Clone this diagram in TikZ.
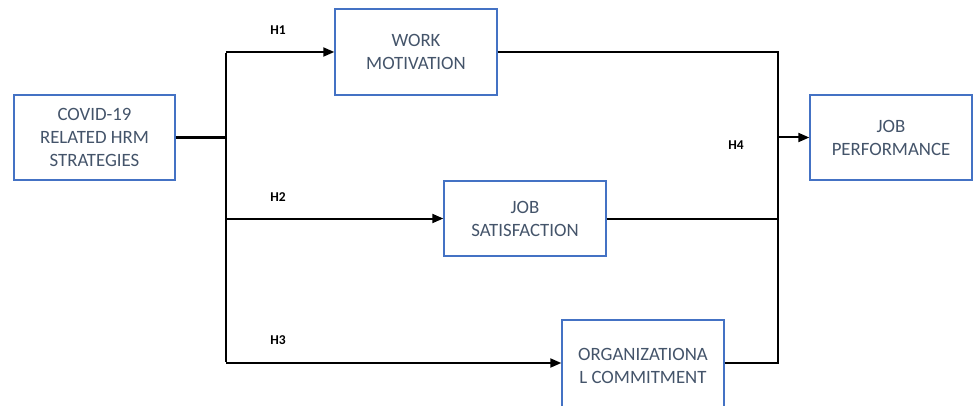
\documentclass[tikz,border=0pt]{standalone}
\usepackage{fontspec}
\setmainfont{Carlito}
\usetikzlibrary{arrows.meta}
\definecolor{boxblue}{HTML}{4472C4}
\definecolor{txtgray}{HTML}{44546A}
\tikzset{
  box/.style={draw=boxblue, line width=1.4pt, fill=white, align=center, text=txtgray,
    font=\fontsize{18.8}{23}\selectfont, inner sep=0pt},
  conn/.style={draw=black, line width=2pt},
  arr/.style={conn, -{Triangle[length=11pt,width=9pt]}},
  hlab/.style={font=\bfseries\fontsize{13.5}{14}\selectfont, text=black}
}
\begin{document}
\begin{tikzpicture}[x=1pt,y=-1pt]
\useasboundingbox (0,0) rectangle (973,406);
\clip (0,0) rectangle (973,406);
\fill[white] (0,0) rectangle (973,406);
\node[box, minimum width=161pt, minimum height=85pt] (covid) at (94.5,137.5) {COVID-19\\RELATED HRM\\STRATEGIES};
\node[box, minimum width=162pt, minimum height=86pt] (wm) at (416,52) {WORK\\MOTIVATION};
\node[box, minimum width=162pt, minimum height=75pt] (js) at (525,218.5) {JOB\\SATISFACTION};
\node[box, minimum width=162pt, minimum height=92pt] (oc) at (643,366) {ORGANIZATIONA\\L COMMITMENT};
\node[box, minimum width=162pt, minimum height=85pt] (jp) at (891,137.5) {JOB\\PERFORMANCE};
\coordinate (lj) at (226,137.5);
\coordinate (ltop) at (226,52);
\coordinate (lmid) at (226,218.5);
\coordinate (lbot) at (226,363);
\coordinate (rtop) at (778,52);
\coordinate (rmid) at (778,218.5);
\coordinate (rbot) at (778,363);
\coordinate (rj) at (778,137.5);
\draw[conn, line width=2.4pt] (covid.east) -- (lj);
\draw[conn] ([yshift=-1pt]ltop) -- ([yshift=1pt]lbot);
\draw[arr] (ltop) -- (wm.west);
\draw[arr] (lmid) -- (js.west);
\draw[arr] (lbot) -- (oc.west |- lbot);
\draw[conn] (wm.east) -- ([xshift=1pt]rtop);
\draw[conn] ([yshift=-1pt]rtop) -- ([yshift=1pt]rbot);
\draw[conn] (js.east) -- (rmid);
\draw[conn] (oc.east |- rbot) -- ([xshift=1pt]rbot);
\draw[arr] (rj) -- (jp.west);
\node[hlab] (h1) at (278,30) {H1};
\node[hlab] (h2) at (278,197) {H2};
\node[hlab] (h3) at (278,340) {H3};
\node[hlab] (h4) at (736,145) {H4};
\end{tikzpicture}
\end{document}
